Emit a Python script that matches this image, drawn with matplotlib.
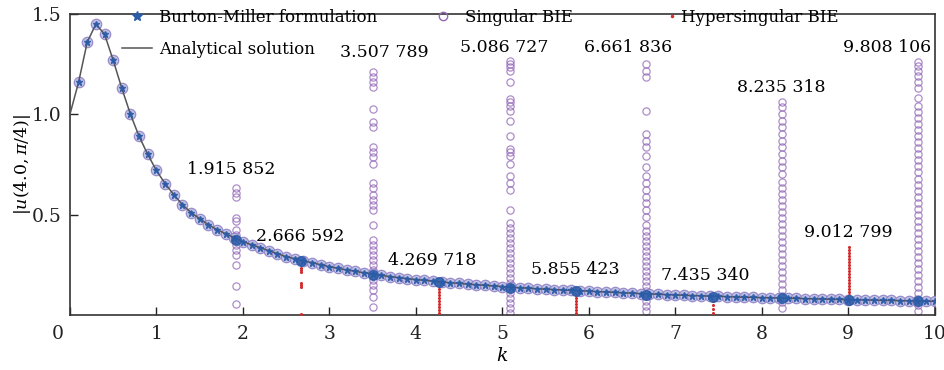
import numpy as np
import matplotlib
matplotlib.use("Agg")
import matplotlib.pyplot as plt
from matplotlib.transforms import ScaledTranslation
from matplotlib.lines import Line2D

# ---------------- data ----------------
k_grid = [0.0, 0.1, 0.2, 0.3, 0.4, 0.5, 0.6, 0.7, 0.8, 0.9,
          1.0, 1.1, 1.2, 1.3, 1.4, 1.5, 1.6, 1.7, 1.8, 1.9,
          2.0, 2.1, 2.2, 2.3, 2.4, 2.5, 2.6, 2.7, 2.8, 2.9,
          3.0, 3.1, 3.2, 3.3, 3.4, 3.5, 3.6, 3.7, 3.8, 3.9,
          4.0, 4.1, 4.2, 4.3, 4.4, 4.5, 4.6, 4.7, 4.8, 4.9,
          5.0, 5.1, 5.2, 5.3, 5.4, 5.5, 5.6, 5.7, 5.8, 5.9,
          6.0, 6.1, 6.2, 6.3, 6.4, 6.5, 6.6, 6.7, 6.8, 6.9,
          7.0, 7.1, 7.2, 7.3, 7.4, 7.5, 7.6, 7.7, 7.8, 7.9,
          8.0, 8.1, 8.2, 8.3, 8.4, 8.5, 8.6, 8.7, 8.8, 8.9,
          9.0, 9.1, 9.2, 9.3, 9.4, 9.5, 9.6, 9.7, 9.8, 9.9, 10.0]

u_analytic = [1.00, 1.16, 1.36, 1.45, 1.40, 1.27, 1.13, 1.00, 0.89, 0.80,
              0.72, 0.655, 0.60, 0.55, 0.51, 0.48, 0.45, 0.425, 0.405, 0.385,
              0.365, 0.35, 0.335, 0.32, 0.305, 0.29, 0.28, 0.27, 0.26, 0.25,
              0.24, 0.232, 0.224, 0.217, 0.21, 0.203, 0.197, 0.191, 0.186, 0.181,
              0.176, 0.172, 0.168, 0.164, 0.160, 0.157, 0.153, 0.150, 0.147, 0.144,
              0.141, 0.138, 0.135, 0.133, 0.130, 0.128, 0.126, 0.124, 0.122, 0.120,
              0.118, 0.116, 0.114, 0.112, 0.110, 0.108, 0.106, 0.104, 0.103, 0.101,
              0.099, 0.098, 0.096, 0.095, 0.093, 0.092, 0.091, 0.089, 0.088, 0.087,
              0.086, 0.085, 0.084, 0.083, 0.082, 0.081, 0.080, 0.079, 0.078, 0.077,
              0.076, 0.075, 0.074, 0.073, 0.072, 0.072, 0.071, 0.070, 0.069, 0.068, 0.067]

# Eigenfrequencies (singular BIE / hypersingular BIE) and the solution there
sing_k = [1.915852, 3.507789, 5.086727, 6.661836, 8.235318, 9.808106]
sing_u = [0.375, 0.20, 0.135, 0.10, 0.083, 0.07]
hyp_k = [2.666592, 4.269718, 5.855423, 7.435340, 9.012799]
hyp_u = [0.27, 0.165, 0.12, 0.09, 0.075]

sing_col_1 = [0.633, 0.608, 0.588, 0.483, 0.467, 0.425, 0.40, 0.375, 0.35,
              0.325, 0.30, 0.25, 0.145, 0.055]
sing_col_2 = [1.21, 1.185, 1.16, 1.135, 1.025, 0.96, 0.935, 0.835, 0.81, 0.785,
              0.75, 0.66, 0.635, 0.60, 0.575, 0.55, 0.525, 0.45, 0.375, 0.35,
              0.325, 0.30, 0.275, 0.25, 0.225, 0.20, 0.175, 0.15, 0.125, 0.09, 0.04]
sing_col_3 = [1.265, 1.25, 1.235, 1.215, 1.16, 1.075, 1.06, 1.04, 1.015, 0.965,
              0.89, 0.825, 0.81, 0.79, 0.75, 0.69, 0.66, 0.625, 0.525, 0.46,
              0.435, 0.41, 0.385, 0.36, 0.335, 0.31, 0.285, 0.26, 0.235, 0.21,
              0.185, 0.16, 0.135, 0.11, 0.085, 0.06, 0.035, 0.01]
sing_col_4 = [1.25, 1.215, 1.185, 1.015, 0.90, 0.865, 0.835, 0.79, 0.735, 0.69,
              0.66, 0.625, 0.59, 0.56, 0.525, 0.49, 0.45, 0.42, 0.395, 0.37,
              0.345, 0.32, 0.295, 0.27, 0.245, 0.22, 0.195, 0.17, 0.145, 0.12,
              0.095, 0.07, 0.045, 0.02]
sing_col_5 = [1.06, 1.035, 1.0, 0.965, 0.935, 0.90, 0.865, 0.835, 0.80, 0.765,
              0.735, 0.70, 0.665, 0.635, 0.605, 0.575, 0.545, 0.515, 0.485, 0.455,
              0.425, 0.395, 0.365, 0.335, 0.305, 0.275, 0.245, 0.215, 0.185, 0.155,
              0.125, 0.095, 0.065, 0.035]
sing_col_6 = [1.26, 1.24, 1.215, 1.19, 1.16, 1.13, 1.08, 1.04, 1.01, 0.98,
              0.95, 0.92, 0.89, 0.86, 0.83, 0.80, 0.77, 0.74, 0.71, 0.68,
              0.65, 0.62, 0.59, 0.56, 0.53, 0.50, 0.47, 0.44, 0.41, 0.38,
              0.35, 0.32, 0.29, 0.26, 0.23, 0.20, 0.17, 0.14, 0.11, 0.08, 0.05, 0.02]

hyp_col_1 = [0.26, 0.235, 0.225, 0.215, 0.16, 0.15, 0.14, 0.005]
hyp_col_2 = [0.16, 0.145, 0.13, 0.115, 0.10, 0.085, 0.07, 0.055, 0.04, 0.025, 0.01]
hyp_col_3 = [0.115, 0.10, 0.085, 0.07, 0.055, 0.04, 0.025, 0.01]
hyp_col_4 = [0.07, 0.05, 0.03, 0.01]
hyp_col_5 = [0.34, 0.325, 0.31, 0.295, 0.28, 0.265, 0.25, 0.235, 0.22, 0.205,
             0.19, 0.175, 0.16, 0.145, 0.13, 0.115, 0.10, 0.085]

sing_labels = ["1.915 852", "3.507 789", "5.086 727", "6.661 836", "8.235 318", "9.808 106"]
hyp_labels = ["2.666 592", "4.269 718", "5.855 423", "7.435 340", "9.012 799"]

# label anchor positions (data coords)
sing_label_pos = [(1.87, 0.725), (3.64, 1.31), (5.02, 1.335), (6.45, 1.335), (8.23, 1.135), (9.45, 1.335)]
hyp_label_pos = [(2.66, 0.39), (4.19, 0.27), (5.85, 0.225), (7.35, 0.195), (9.0, 0.41)]

# ---------------- styling ----------------
plt.rcParams['font.family'] = ['DejaVu Serif']
plt.rcParams['mathtext.fontset'] = 'dejavuserif'

purple = '#9467b8'
blue = '#2b5ca8'
red = '#d42a2a'
line_c = '#555555'

fig = plt.figure(figsize=(9.45, 3.70), dpi=100)
ax = fig.add_axes([0.074, 0.149, 0.915, 0.813])

k_arr = np.array(k_grid)
u_arr = np.array(u_analytic)

# singular BIE columns
sing_cols = [sing_col_1, sing_col_2, sing_col_3, sing_col_4, sing_col_5, sing_col_6]
for kk, col in zip(sing_k, sing_cols):
    ax.plot([kk] * len(col), col, 'o', ms=5.2, mfc='none', mec=purple, mew=0.9,
            alpha=0.75, zorder=2)

# hypersingular BIE columns
hyp_cols = [hyp_col_1, hyp_col_2, hyp_col_3, hyp_col_4, hyp_col_5]
for kk, col in zip(hyp_k, hyp_cols):
    ax.plot([kk] * len(col), col, 'o', ms=2.2, color=red, mec='none', zorder=3)

# singular BIE along curve (coincides with analytical)
ax.plot(k_arr[1:], u_arr[1:], 'o', ms=7.5, mfc='#b9b9e2', mec='#8c7fc4', mew=0.9,
        alpha=0.85, zorder=3)

# analytical line
ax.plot(k_arr, u_arr, '-', color=line_c, lw=1.1, zorder=4)

# Burton-Miller points
ax.plot(k_arr[1:], u_arr[1:], '*', ms=4.5, color=blue, alpha=0.9, zorder=5)
ax.plot(sing_k + hyp_k, sing_u + hyp_u, 'o', ms=7, color=blue, alpha=0.85, zorder=5)

# annotations
for lab, (x, y) in zip(sing_labels, sing_label_pos):
    ax.text(x, y, lab, ha='center', va='center', fontsize=12.5, zorder=6)
for lab, (x, y) in zip(hyp_labels, hyp_label_pos):
    ax.text(x, y, lab, ha='center', va='center', fontsize=12.5, zorder=6)

# legends
h_bm = Line2D([], [], ls='none', marker='*', ms=7, color=blue)
h_an = Line2D([], [], ls='-', color=line_c, lw=1.1)
h_si = Line2D([], [], ls='none', marker='o', ms=6, mfc='none', mec=purple, mew=1)
h_hy = Line2D([], [], ls='none', marker='o', ms=2.5, color=red, mec='none')

leg1 = ax.legend([h_bm, h_an, h_si],
                 ["Burton-Miller formulation", "Analytical solution", "Singular BIE"],
                 ncol=2, loc='upper left', bbox_to_anchor=(0.060, 1.018),
                 frameon=False, fontsize=12, handlelength=1.8, handletextpad=0.45,
                 columnspacing=3.0, labelspacing=0.9, borderaxespad=0, borderpad=0)
ax.add_artist(leg1)
ax.legend([h_hy], ["Hypersingular BIE"], loc='upper left', bbox_to_anchor=(0.687, 1.018),
          frameon=False, fontsize=12, handlelength=1.0, handletextpad=0.0,
          borderaxespad=0, borderpad=0)

ax.set_xlim(0, 10)
ax.set_ylim(0, 1.5)
ax.set_xticks(range(0, 11))
ax.set_yticks([0.5, 1.0, 1.5])
ax.set_yticklabels(["0.5", "1.0", "1.5"])
ax.tick_params(direction='in', length=6, width=1, labelsize=13.5, colors='#222222',
               top=False, right=False)
ax.tick_params(axis='x', pad=7)
ax.tick_params(axis='y', pad=6)
lbls = ax.get_xticklabels()
lbls[0].set_transform(lbls[0].get_transform() + ScaledTranslation(-0.12, 0, fig.dpi_scale_trans))

for s in ax.spines.values():
    s.set_color('#333333')
    s.set_linewidth(1.2)

ax.set_xlabel(r'$k$', fontsize=13.5, labelpad=3)
ax.set_ylabel(r'$|u(4.0,\pi/4)|$', fontsize=12.5, labelpad=-1)

fig.savefig('out.png', dpi=100)
